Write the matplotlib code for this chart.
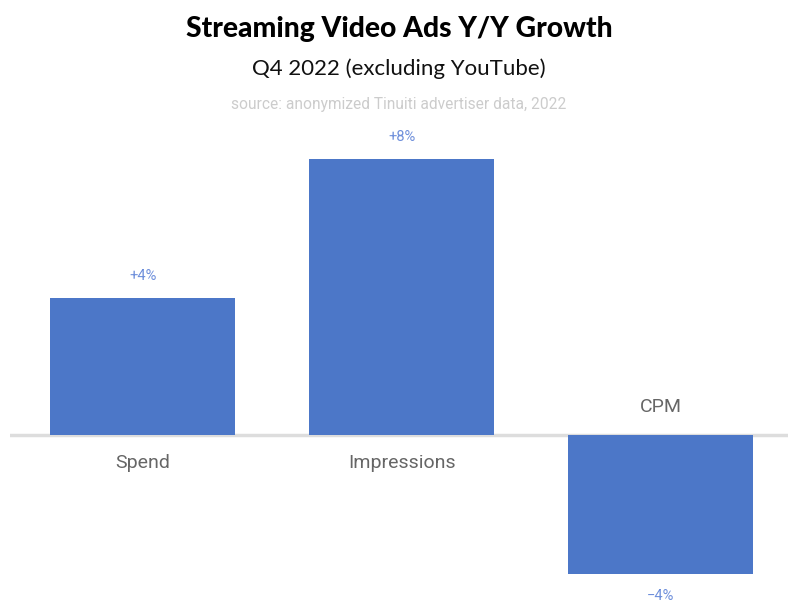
import matplotlib.pyplot as plt

categories = ['Spend', 'Impressions', 'CPM']
growth = [4.0, 8.05, -4.05]
value_labels = ['+4%', '+8%', '\u22124%']

bar_color = '#4c77c8'
label_color = '#6e8fdb'

fig = plt.figure(figsize=(7.98, 6.14), dpi=100)
# axes placed so the zero line runs from x=10 to x=788 px
ax = fig.add_axes([10 / 798, 1 - 589 / 614, 778 / 798, 445 / 614])
x = range(len(categories))
ax.bar(x, growth, width=0.714, color=bar_color, zorder=2)
ax.axhline(0, color='#dddddd', linewidth=2.5, zorder=1)
ax.set_xlim(-0.512, 2.492)
ax.set_ylim(-4.5, 8.5)
ax.axis('off')

for i, v in enumerate(growth):
    sign = 1 if v >= 0 else -1
    ax.annotate(value_labels[i], (i, v), xytext=(0, 16 * sign), textcoords='offset points',
                ha='center', va='center', fontsize=10.5, color=label_color, family='Roboto')
    ax.annotate(categories[i], (i, 0), xytext=(0, -20 * sign), textcoords='offset points',
                ha='center', va='center', fontsize=14, color='#666666', family='Roboto')

fig.text(0.5, 1 - 29 / 614, 'Streaming Video Ads Y/Y Growth', ha='center', va='center',
         fontsize=20.3, fontweight='black', family='Lato', color='black')
fig.text(0.5, 1 - 69 / 614, 'Q4 2022 (excluding YouTube)', ha='center', va='center',
         fontsize=16, family='Lato', color='#111111')
fig.text(0.5, 1 - 105 / 614, 'source: anonymized Tinuiti advertiser data, 2022', ha='center',
         va='center', fontsize=11.2, family='Roboto', color='#cccccc')

plt.savefig('out.png', dpi=100)
